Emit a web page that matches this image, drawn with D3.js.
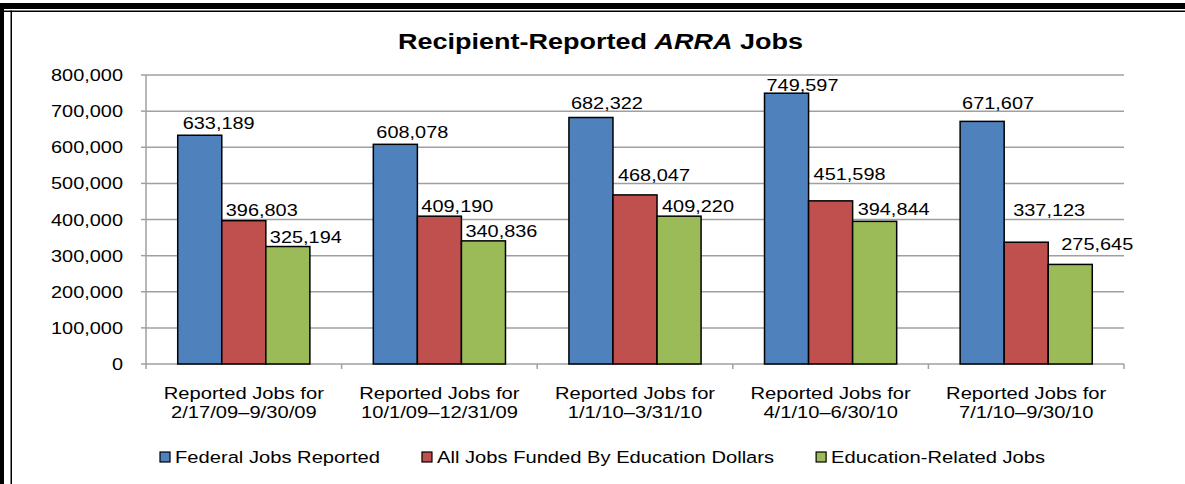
<!DOCTYPE html>
<html>
<head>
<meta charset="utf-8">
<script src="https://cdn.jsdelivr.net/npm/d3@7"></script>
<style>
  body { margin: 0; background: #fff; overflow: hidden; }
  svg { display: block; }
  text { font-family: "Liberation Sans", Arial, sans-serif; fill: #000; }
</style>
</head>
<body>
<svg id="chart"></svg>
<script>
const categories = [
  ['Reported Jobs for', '2/17/09\u20139/30/09'],
  ['Reported Jobs for', '10/1/09\u201312/31/09'],
  ['Reported Jobs for', '1/1/10\u20133/31/10'],
  ['Reported Jobs for', '4/1/10\u20136/30/10'],
  ['Reported Jobs for', '7/1/10\u20139/30/10']
];
const seriesNames = ['Federal Jobs Reported', 'All Jobs Funded By Education Dollars', 'Education-Related Jobs'];
const federalJobs = [633189, 608078, 682322, 749597, 671607];
const educationDollarJobs = [396803, 409190, 468047, 451598, 337123];
const educationRelatedJobs = [325194, 340836, 409220, 394844, 275645];
const yTicks = [0, 100000, 200000, 300000, 400000, 500000, 600000, 700000, 800000];

// hand-placed label nudges from the original chart, [dx from bar left, dy above bar top]
const labelNudge = [
  [[5, 6], [4, 5], [4, 3.5]],
  [[3, 6], [4, 4], [4, 3.6]],
  [[2, 8.5], [5, 14], [5, 4]],
  [[2, 2], [5, 21], [5, 6.4]],
  [[2, 12], [9, 26], [13, 14]]
];

const colors = ['#4f81bd', '#c0504d', '#9bbb59'];
const series = [federalJobs, educationDollarJobs, educationRelatedJobs];
const width = 1185, height = 484;
const sx = 1.2; // the source image is stretched sideways
const plot = {left: 146, right: 1124, top: 75, bottom: 364};

const svg = d3.select('#chart').attr('width', width).attr('height', height);
const fmt = d3.format(',');

function place(sel, x, y) {
  return sel.attr('transform', `translate(${x},${y}) scale(${sx},1)`);
}

// frame
svg.append('rect').attr('x', 0).attr('y', 3).attr('width', width).attr('height', 6).attr('fill', '#000');
svg.append('rect').attr('x', 0).attr('y', 10.5).attr('width', width).attr('height', 1.5).attr('fill', '#000');
svg.append('rect').attr('x', 0).attr('y', 3).attr('width', 4).attr('height', height).attr('fill', '#000');
svg.append('rect').attr('x', 10.5).attr('y', 10.5).attr('width', 1.5).attr('height', height).attr('fill', '#000');

const x0 = d3.scaleBand().domain(d3.range(categories.length)).range([plot.left, plot.right]);
const x1 = d3.scaleBand().domain(d3.range(series.length)).range([0, x0.bandwidth()]).paddingOuter(0.72);
const y = d3.scaleLinear().domain([0, 800000]).range([plot.bottom, plot.top]);

// gridlines
svg.append('g').selectAll('line').data(yTicks.filter(d => d > 0)).join('line')
  .attr('x1', plot.left).attr('x2', plot.right)
  .attr('y1', d => y(d)).attr('y2', d => y(d))
  .attr('stroke', '#a0a0a0').attr('stroke-width', 1.5);

// y axis
svg.append('line').attr('x1', plot.left).attr('x2', plot.left)
  .attr('y1', plot.top).attr('y2', plot.bottom)
  .attr('stroke', '#a0a0a0').attr('stroke-width', 1.5);
svg.append('g').selectAll('line').data(yTicks).join('line')
  .attr('x1', plot.left - 5).attr('x2', plot.left)
  .attr('y1', d => y(d)).attr('y2', d => y(d))
  .attr('stroke', '#a0a0a0').attr('stroke-width', 1.5);
svg.append('g').selectAll('text').data(yTicks).join('text')
  .attr('text-anchor', 'end').style('font-size', '16.6px')
  .each(function(d) { place(d3.select(this), 123, y(d) + 6); })
  .text(d => fmt(d));

// x axis
svg.append('line').attr('x1', plot.left).attr('x2', plot.right)
  .attr('y1', plot.bottom).attr('y2', plot.bottom)
  .attr('stroke', '#a0a0a0').attr('stroke-width', 1.5);
const bounds = d3.range(categories.length + 1).map(i => i < categories.length ? x0(i) : plot.right);
svg.append('g').selectAll('line').data(bounds).join('line')
  .attr('x1', d => d).attr('x2', d => d)
  .attr('y1', plot.bottom).attr('y2', plot.bottom + 5)
  .attr('stroke', '#a0a0a0').attr('stroke-width', 1.5);

const catG = svg.append('g').selectAll('text').data(categories).join('text')
  .attr('text-anchor', 'middle').style('font-size', '16.8px')
  .each(function(d, i) { place(d3.select(this), x0(i) + x0.bandwidth() / 2, 399); });
catG.selectAll('tspan').data(d => d).join('tspan')
  .attr('x', 0).attr('dy', (d, i) => i === 0 ? 0 : 19)
  .text(d => d);

// bars
const cells = [];
categories.forEach((c, i) => series.forEach((s, j) => cells.push({i, j, v: s[i]})));

svg.append('g').selectAll('rect').data(cells).join('rect')
  .attr('x', d => x0(d.i) + x1(d.j))
  .attr('y', d => y(d.v))
  .attr('width', x1.bandwidth())
  .attr('height', d => y(0) - y(d.v))
  .attr('fill', d => colors[d.j])
  .attr('stroke', '#000').attr('stroke-width', 1.5);

svg.append('g').selectAll('text').data(cells).join('text')
  .style('font-size', '16.6px')
  .each(function(d) {
    const n = labelNudge[d.i][d.j];
    place(d3.select(this), x0(d.i) + x1(d.j) + n[0], y(d.v) - n[1]);
  })
  .text(d => fmt(d.v));

// title
const title = svg.append('text').attr('text-anchor', 'middle')
  .style('font-size', '22.5px').style('font-weight', 'bold');
place(title, 600.5, 49);
title.append('tspan').text('Recipient-Reported ');
title.append('tspan').style('font-style', 'italic').text('ARRA');
title.append('tspan').text(' Jobs');

// legend
const legend = svg.append('g');
let lx = 160;
seriesNames.forEach((name, j) => {
  legend.append('rect').attr('x', lx).attr('y', 452).attr('width', 10).attr('height', 10)
    .attr('fill', colors[j]).attr('stroke', '#000').attr('stroke-width', 1.2);
  const t = legend.append('text').style('font-size', '16.8px').text(name);
  place(t, lx + 15, 463);
  lx += 15 + t.node().getComputedTextLength() * sx + 42;
});
</script>
</body>
</html>
